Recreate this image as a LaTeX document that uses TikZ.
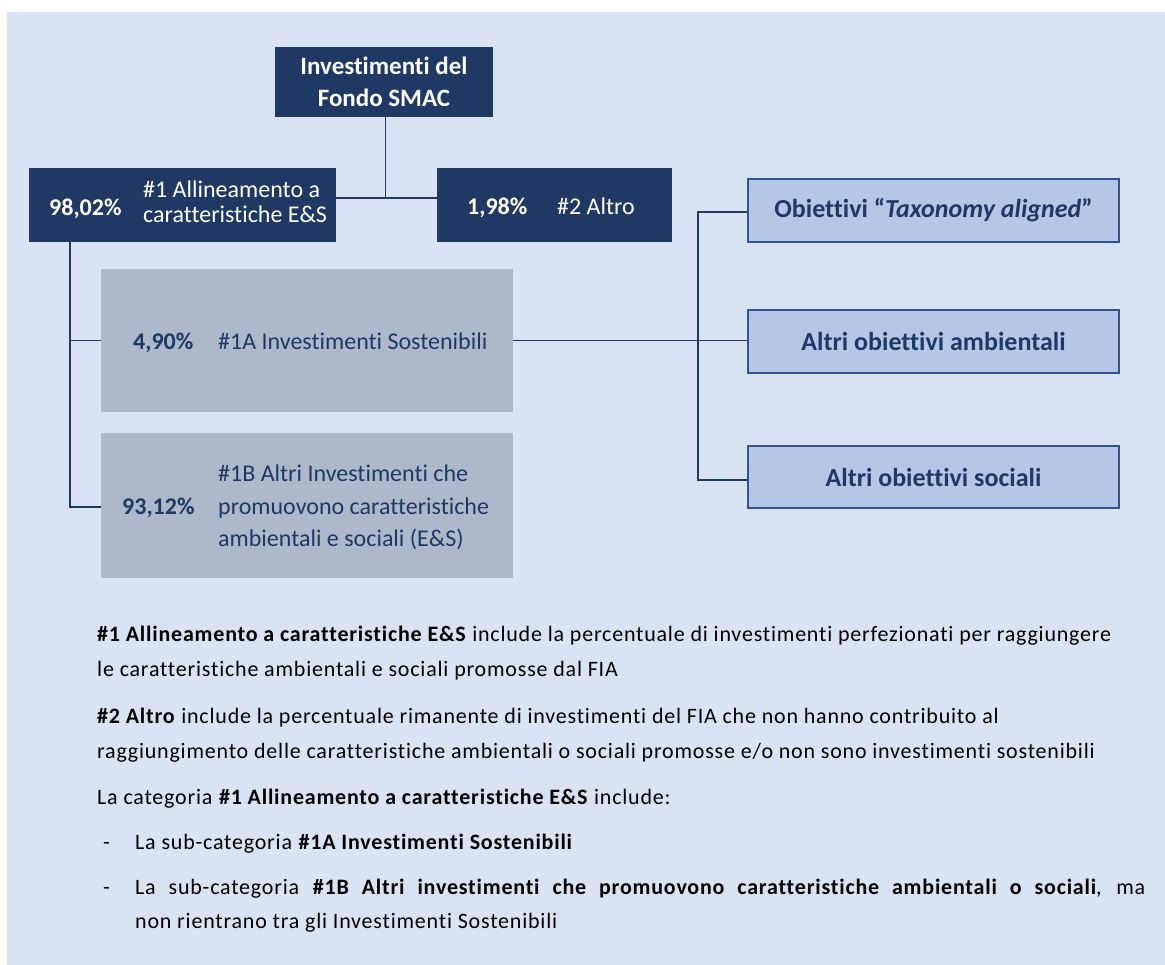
\documentclass[tikz,border=0pt]{standalone}
\usepackage{fontspec}
\setmainfont{Carlito}[Ligatures=NoCommon]
\newfontfamily\bodyfont{Carlito}[Ligatures=NoCommon, LetterSpace=3.6]
\definecolor{bg}{HTML}{DAE3F3}
\definecolor{navy}{HTML}{1F3864}
\definecolor{grayb}{HTML}{ADB9CA}
\definecolor{lightb}{HTML}{B4C7E7}
\definecolor{bord}{HTML}{2F5597}
\begin{document}
\begin{tikzpicture}[x=1pt,y=-1pt,
  darkbox/.style={fill=navy, inner sep=0pt},
  graybox/.style={fill=grayb, inner sep=0pt},
  objbox/.style={fill=lightb, draw=bord, line width=2pt, text=navy, inner sep=0pt, font=\bfseries\fontsize{26}{30}\selectfont},
  wlbl/.style={anchor=base west, inner sep=0pt, text=white, font=\fontsize{24}{22}\selectfont},
  nlbl/.style={anchor=base west, inner sep=0pt, text=navy, font=\fontsize{24}{22}\selectfont},
  conn/.style={draw=navy, line width=1.4pt},
  txt/.style={anchor=base west, inner sep=0pt, text=black, font=\bodyfont\fontsize{22}{30}\selectfont}]
\useasboundingbox (0,0) rectangle (1165,965);
\fill[bg] (7,12) rectangle (1165,965);

% top level
\node[darkbox, minimum width=218pt, minimum height=70pt, text=white, align=center,
      font=\bfseries\fontsize{25}{32}\selectfont] (top) at (384,82) {Investimenti del\\Fondo SMAC};
\node[darkbox, minimum width=307pt, minimum height=74pt] (A) at (182.5,205) {};
\node[wlbl, font=\bfseries\fontsize{24}{22}\selectfont] (Ap) at (49,215.5) {98,02\%};
\node[wlbl] (At1) at (143,198) {\#1 Allineamento a};
\node[wlbl] (At2) at (143,223) {caratteristiche E\&S};
\node[darkbox, minimum width=235pt, minimum height=74pt] (B) at (554.5,205) {};
\node[wlbl, font=\bfseries\fontsize{24}{22}\selectfont] (Bp) at (467,214.5) {1,98\%};
\node[wlbl] (Bt) at (557,214.5) {\#2 Altro};

% sub categories
\node[graybox, minimum width=412pt, minimum height=143pt] (A1) at (307,340.5) {};
\node[nlbl, font=\bfseries\fontsize{24}{22}\selectfont] (A1p) at (133,349.5) {4,90\%};
\node[nlbl] (A1t) at (218,349.5) {\#1A Investimenti Sostenibili};
\node[graybox, minimum width=412pt, minimum height=145pt] (B1) at (307,505.5) {};
\node[nlbl, font=\bfseries\fontsize{24}{22}\selectfont] (B1p) at (122,514) {93,12\%};
\node[nlbl] (B1t1) at (218,482) {\#1B Altri Investimenti che};
\node[nlbl] (B1t2) at (218,514) {promuovono caratteristiche};
\node[nlbl] (B1t3) at (218,546) {ambientali e sociali (E\&S)};

% objectives
\node[objbox, minimum width=371pt, minimum height=63pt] (R1) at (933.5,210.5) {Obiettivi “\textit{Taxonomy aligned}”};
\node[objbox, minimum width=371pt, minimum height=63pt] (R2) at (933.5,341.5) {Altri obiettivi ambientali};
\node[objbox, minimum width=371pt, minimum height=62pt] (R3) at (933.5,477) {Altri obiettivi sociali};

% connectors
\coordinate (j1) at (385.5,198);
\draw[conn] (top.south -| j1) -- (j1);
\draw[conn] (A.east |- j1) -- (B.west |- j1);
\coordinate (j2) at (70,507);
\draw[conn] (A.south -| j2) -- (j2) -- (B1.west |- j2);
\draw[conn] (j2 |- A1.west) -- (A1.west);
\coordinate (j3) at (698,212);
\coordinate (j4) at (698,480);
\draw[conn] (R1.west |- j3) -- (j3) -- (j4) -- (R3.west |- j4);
\draw[conn] (A1.east) -- (A1.east -| R2.west);

% explanatory text
\node[txt] (p1a) at (97,641) {\textbf{\#1 Allineamento a caratteristiche E\&S} include la percentuale di investimenti perfezionati per raggiungere};
\node[txt] (p1b) at (97,676) {le caratteristiche ambientali e sociali promosse dal FIA};
\node[txt] (p2a) at (97,723) {\textbf{\#2 Altro} include la percentuale rimanente di investimenti del FIA che non hanno contribuito al};
\node[txt] (p2b) at (97,758) {raggiungimento delle caratteristiche ambientali o sociali promosse e/o non sono investimenti sostenibili};
\node[txt] (p3) at (97,804) {La categoria \textbf{\#1 Allineamento a caratteristiche E\&S} include:};
\node[txt] (d1) at (103,849) {-};
\node[txt] (i1) at (135,849) {La sub-categoria \textbf{\#1A Investimenti Sostenibili}};
\node[txt] (d2) at (103,894) {-};
\node[txt] (i2a) at (135,894) {\makebox[1010pt][s]{La sub-categoria \textbf{\#1B Altri investimenti che promuovono caratteristiche ambientali o sociali}, ma}};
\node[txt] (i2b) at (135,928) {non rientrano tra gli Investimenti Sostenibili};
\end{tikzpicture}
\end{document}
